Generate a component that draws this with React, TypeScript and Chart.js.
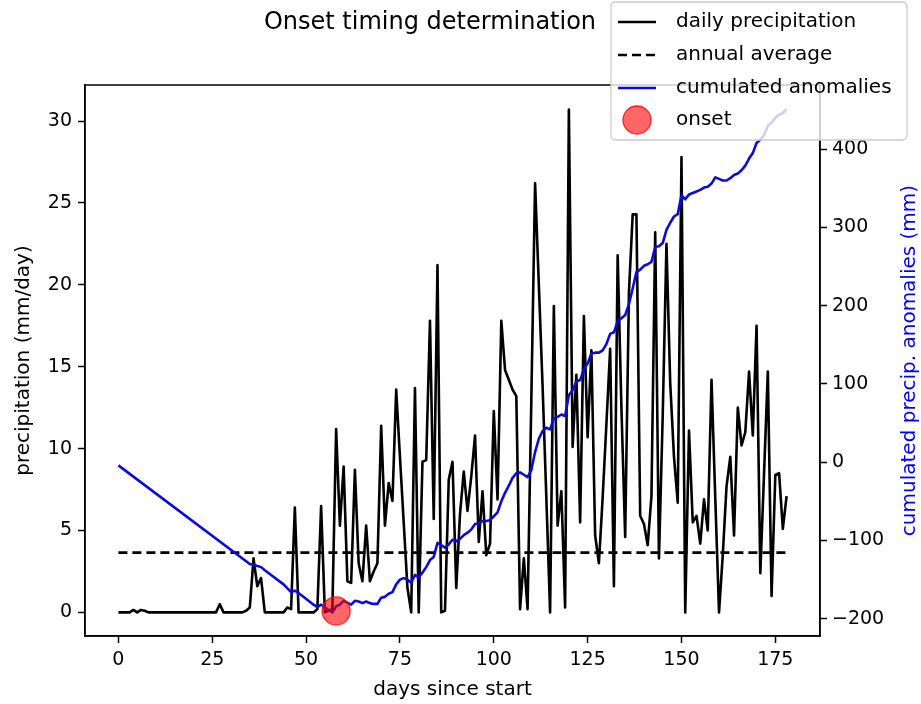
import React, { useEffect, useRef } from 'react';
import { Chart, registerables } from 'chart.js';

Chart.register(...registerables);

const FONT = "'DejaVu Sans', sans-serif";

// daily precipitation (mm/day), day 0 .. 178
const precipitation: number[] = [
  0, 0, 0, 0, 0.15, 0, 0.15, 0.1, 0, 0,
  0, 0, 0, 0, 0, 0, 0, 0, 0, 0,
  0, 0, 0, 0, 0, 0, 0, 0.5, 0, 0,
  0, 0, 0, 0, 0.1, 0.3, 3.3, 1.6, 2.1, 0,
  0, 0, 0, 0, 0, 0.3, 0.2, 6.4, 0, 0,
  0, 0, 0, 0.2, 6.5, 0, 0.1, 0.2, 11.2, 5.3,
  8.9, 1.9, 1.8, 8.7, 3.0, 1.9, 5.3, 1.9, 2.5, 3.0,
  11.4, 5.3, 7.9, 6.8, 13.6, 9.5, 5.5, 1.5, 0, 13.7,
  0, 9.2, 9.3, 17.8, 5.7, 21.2, 0, 0.1, 8.1, 9.2,
  1.5, 6.0, 8.6, 6.2, 8.3, 10.8, 4.3, 7.4, 3.5, 4.2,
  12.3, 6.9, 17.8, 14.8, 14.2, 13.6, 13.2, 0.2, 3.3, 0.2,
  13.0, 26.2, 20.0, 13.8, 7.0, 0, 18.7, 5.3, 7.4, 0.3,
  30.7, 10.1, 14.5, 5.5, 18.1, 10.7, 16.0, 4.7, 3.0, 7.0,
  11.5, 16.1, 1.6, 21.8, 12.5, 4.6, 19.5, 24.3, 24.3, 5.9,
  5.4, 4.1, 7.1, 23.2, 3.3, 12.0, 22.5, 14.0, 9.5, 6.7,
  27.8, 0, 11.1, 5.5, 5.9, 4.2, 6.9, 5.0, 14.2, 7.0,
  0, 3.5, 7.7, 9.5, 4.7, 12.5, 10.2, 11.0, 14.7, 10.8,
  17.5, 2.4, 8.5, 14.7, 1.0, 8.4, 8.5, 5.1, 7.1,
];

const annualAverage = 3.65;
const averageSpan = [0, 178];

// cumulated anomalies (mm)
const cumDays: number[] = [
  0, 35, 36, 38, 39, 44, 46, 47, 48, 52, 53, 54, 57, 58, 59, 60, 62, 63, 64, 65,
  66, 67, 68, 69, 70, 71, 72, 73, 74, 75, 76, 77, 78, 79, 80, 81, 82, 83, 84, 85,
  86, 87, 88, 89, 90, 91, 92, 93, 94, 95, 96, 97, 98, 99, 100, 101, 102, 103, 104, 105,
  106, 107, 108, 109, 110, 111, 112, 113, 114, 115, 116, 117, 118, 119, 120, 121, 122, 123, 124, 125,
  126, 127, 128, 129, 130, 131, 132, 133, 134, 135, 136, 137, 138, 139, 140, 141, 142, 143, 144, 145,
  146, 147, 148, 149, 150, 151, 152, 153, 154, 155, 156, 157, 158, 159, 160, 161, 162, 163, 164, 165,
  166, 167, 168, 169, 170, 171, 172, 173, 174, 175, 176, 177, 178,
];
const cumValues: number[] = [
  -4, -130, -131, -134, -138, -156, -166, -164, -167, -182, -185, -182, -192, -184, -182, -177, -182, -177, -178, -180,
  -178, -180, -181, -181, -173, -172, -168, -166, -156, -150, -148, -150, -154, -144, -147, -141, -134, -125, -121, -103,
  -106, -109, -105, -99, -101, -98, -93, -90, -86, -79, -78, -75, -75, -74, -69, -64, -50, -39, -30, -20,
  -14, -13, -16, -19, -10, 13, 30, 40, 44, 42, 56, 58, 61, 59, 86, 92, 103, 105, 119, 126,
  139, 140, 140, 143, 151, 164, 166, 180, 184, 188, 202, 222, 243, 246, 251, 253, 256, 275, 276, 280,
  297, 306, 314, 317, 341, 336, 342, 344, 346, 348, 351, 352, 356, 364, 362, 360, 360, 363, 367, 369,
  373, 379, 388, 395, 408, 412, 418, 430, 434, 440, 444, 446, 451,
];

const onsetDay = 58;
const onsetValue = -190;

const xTicks = [0, 25, 50, 75, 100, 125, 150, 175];
const leftTicks = [0, 5, 10, 15, 20, 25, 30];
const rightTicks = [-200, -100, 0, 100, 200, 300, 400];

const titleText = 'Onset timing determination';
const xLabel = 'days since start';
const leftLabel = 'precipitation (mm/day)';
const rightLabel = 'cumulated precip. anomalies (mm)';
const legendLabels = ['daily precipitation', 'annual average', 'cumulated anomalies', 'onset'];

const BLUE_LINE = '#0a0ae0';
const BLUE_TEXT = '#0000ff';
const LW = 2.6;

const fmt = (v: number | string) => String(v).replace('-', '\u2212');

const decorPlugin = {
  id: 'decor',
  afterDraw(chart: any) {
    const { ctx, chartArea: a } = chart;
    ctx.save();
    ctx.strokeStyle = '#000';
    ctx.lineWidth = 1.5;
    ctx.strokeRect(a.left, a.top, a.right - a.left, a.bottom - a.top);

    ctx.fillStyle = '#000';
    ctx.textAlign = 'center';
    ctx.textBaseline = 'middle';
    ctx.font = `24px ${FONT}`;
    ctx.fillText(titleText, 430, 23);

    ctx.font = `20px ${FONT}`;
    ctx.fillText(xLabel, (a.left + a.right) / 2, 690);
    const cy = (a.top + a.bottom) / 2;
    ctx.save();
    ctx.translate(24, cy);
    ctx.rotate(-Math.PI / 2);
    ctx.fillText(leftLabel, 0, 0);
    ctx.restore();
    ctx.save();
    ctx.translate(910, cy);
    ctx.rotate(-Math.PI / 2);
    ctx.fillStyle = BLUE_TEXT;
    ctx.fillText(rightLabel, 0, 0);
    ctx.restore();

    // legend
    const bx = 611, by = 2, bw = 296, bh = 138, r = 5;
    ctx.beginPath();
    ctx.moveTo(bx + r, by);
    ctx.lineTo(bx + bw - r, by);
    ctx.quadraticCurveTo(bx + bw, by, bx + bw, by + r);
    ctx.lineTo(bx + bw, by + bh - r);
    ctx.quadraticCurveTo(bx + bw, by + bh, bx + bw - r, by + bh);
    ctx.lineTo(bx + r, by + bh);
    ctx.quadraticCurveTo(bx, by + bh, bx, by + bh - r);
    ctx.lineTo(bx, by + r);
    ctx.quadraticCurveTo(bx, by, bx + r, by);
    ctx.closePath();
    ctx.fillStyle = 'rgba(255,255,255,0.8)';
    ctx.fill();
    ctx.strokeStyle = '#cccccc';
    ctx.lineWidth = 1.3;
    ctx.stroke();

    const rows = [22, 55, 88, 120];
    const hx0 = 618, hx1 = 656, tx = 676;
    ctx.lineWidth = LW;
    ctx.strokeStyle = '#000';
    ctx.setLineDash([]);
    ctx.beginPath(); ctx.moveTo(hx0, rows[0]); ctx.lineTo(hx1, rows[0]); ctx.stroke();
    ctx.setLineDash([9, 5]);
    ctx.beginPath(); ctx.moveTo(hx0, rows[1]); ctx.lineTo(hx1, rows[1]); ctx.stroke();
    ctx.setLineDash([]);
    ctx.strokeStyle = BLUE_LINE;
    ctx.beginPath(); ctx.moveTo(hx0, rows[2]); ctx.lineTo(hx1, rows[2]); ctx.stroke();
    ctx.beginPath();
    ctx.arc((hx0 + hx1) / 2, rows[3], 14, 0, Math.PI * 2);
    ctx.fillStyle = 'rgba(255,0,0,0.6)';
    ctx.fill();
    ctx.strokeStyle = 'rgba(255,0,0,0.8)';
    ctx.lineWidth = 1.3;
    ctx.stroke();

    ctx.fillStyle = '#000';
    ctx.textAlign = 'left';
    ctx.font = `20px ${FONT}`;
    legendLabels.forEach((t, i) => ctx.fillText(t, tx, rows[i]));
    ctx.restore();
  },
};

const tickGrid = {
  display: true,
  drawOnChartArea: false,
  drawTicks: true,
  tickLength: 7,
  tickWidth: 1.5,
  tickColor: '#000',
};

const tickFont = { family: FONT, size: 19 };

export default function App() {
  const ref = useRef<HTMLCanvasElement | null>(null);

  useEffect(() => {
    if (!ref.current) return;
    Chart.defaults.font.family = FONT;
    const chart = new Chart(ref.current, {
      type: 'line',
      data: {
        datasets: [
          {
            label: 'onset',
            data: [{ x: onsetDay, y: onsetValue }],
            yAxisID: 'y2',
            showLine: false,
            pointRadius: 14,
            pointBackgroundColor: 'rgba(255,0,0,0.6)',
            pointBorderColor: 'rgba(255,0,0,0.8)',
            pointBorderWidth: 1.3,
            order: 0,
          },
          {
            label: 'cumulated anomalies',
            data: cumDays.map((d, i) => ({ x: d, y: cumValues[i] })),
            yAxisID: 'y2',
            borderColor: BLUE_LINE,
            borderWidth: LW,
            pointRadius: 0,
            tension: 0,
            borderJoinStyle: 'round',
            order: 1,
          },
          {
            label: 'annual average',
            data: averageSpan.map((d) => ({ x: d, y: annualAverage })),
            yAxisID: 'y',
            borderColor: '#000',
            borderWidth: LW,
            borderDash: [9, 5],
            pointRadius: 0,
            order: 2,
          },
          {
            label: 'daily precipitation',
            data: precipitation.map((v, i) => ({ x: i, y: v })),
            yAxisID: 'y',
            borderColor: '#000',
            borderWidth: LW,
            pointRadius: 0,
            tension: 0,
            borderJoinStyle: 'round',
            order: 3,
          },
        ],
      },
      options: {
        animation: false,
        responsive: true,
        maintainAspectRatio: false,
        layout: { padding: { top: 85, left: 0, right: 0, bottom: 0 } },
        plugins: {
          legend: { display: false },
          title: { display: false },
          tooltip: { enabled: false },
        },
        scales: {
          x: {
            type: 'linear',
            position: 'bottom',
            min: -8.9,
            max: 186.9,
            afterBuildTicks: (s: any) => { s.ticks = xTicks.map((v) => ({ value: v })); },
            afterFit: (s: any) => { s.height = 68; },
            grid: tickGrid,
            border: { display: true, color: '#000', width: 1.5 },
            ticks: {
              color: '#000',
              font: tickFont,
              padding: 6,
              maxRotation: 0,
              autoSkip: false,
              callback: (v: any) => fmt(v),
            },
          },
          y: {
            type: 'linear',
            position: 'left',
            min: -1.44,
            max: 32.2,
            afterBuildTicks: (s: any) => { s.ticks = leftTicks.map((v) => ({ value: v })); },
            afterFit: (s: any) => { s.width = 85; },
            grid: tickGrid,
            border: { display: true, color: '#000', width: 1.5 },
            ticks: {
              color: '#000',
              font: tickFont,
              padding: 6,
              autoSkip: false,
              callback: (v: any) => fmt(v),
            },
          },
          y2: {
            type: 'linear',
            position: 'right',
            min: -222,
            max: 482,
            afterBuildTicks: (s: any) => { s.ticks = rightTicks.map((v) => ({ value: v })); },
            afterFit: (s: any) => { s.width = 101; },
            grid: tickGrid,
            border: { display: true, color: '#000', width: 1.5 },
            ticks: {
              color: '#000',
              font: tickFont,
              padding: 5,
              autoSkip: false,
              callback: (v: any) => fmt(v),
            },
          },
        },
      },
      plugins: [decorPlugin],
    } as any);
    return () => chart.destroy();
  }, []);

  return (
    <div style={{ position: 'fixed', left: 0, top: 0, width: '921px', height: '704px', background: '#fff' }}>
      <canvas ref={ref} />
    </div>
  );
}
